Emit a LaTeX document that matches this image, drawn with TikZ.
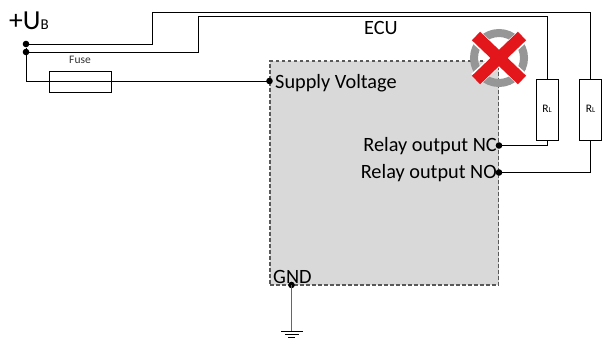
\documentclass[tikz,border=0pt]{standalone}
\usepackage{fontspec}
\setmainfont{Carlito}
\definecolor{ecufill}{HTML}{D9D9D9}
\definecolor{ringgray}{HTML}{969696}
\definecolor{crossred}{HTML}{E3161B}
\tikzset{
  x=1pt,y=-1pt,
  wire/.style={draw=black,line width=1pt},
  boxed/.style={draw=black,line width=1pt,fill=white,minimum width=22pt,minimum height=61pt,inner sep=0pt},
  dot/.style={circle,fill=black,minimum size=6.6pt,inner sep=0pt},
  lab/.style={font=\fontsize{20.3pt}{22pt}\selectfont,inner sep=0pt,text=black},
  small/.style={font=\fontsize{11.5pt}{13pt}\selectfont,inner sep=0pt},
}
\begin{document}
\begin{tikzpicture}
\useasboundingbox (0,0) rectangle (604,338);
\node[draw=black!65,dash pattern=on 3.5pt off 2.5pt,line width=1.3pt,fill=ecufill,minimum width=228.5pt,minimum height=224pt,inner sep=0pt] (ecu) at (384.25,173) {};
\node[boxed,minimum width=62pt,minimum height=21pt,fill=none] (fuse) at (80,81.5) {};
\node[boxed] (r1) at (547,109.5) {};
\node[boxed] (r2) at (590.5,109.5) {};
\node[dot] (u1) at (26,44) {};
\node[dot] (u2) at (26,52) {};
\node[dot] (sv) at (269.5,81) {};
\node[dot] (nc) at (499,145.5) {};
\node[dot] (no) at (499,172.5) {};
\node[dot] (gnd) at (291.5,285) {};
\coordinate (g0) at (291.5,331);
\draw[wire] (u1) -- (u2);
\draw[wire] (u1.center) -- (152,44) -- (152,12) -- (590.5,12) -- (r2.north);
\draw[wire] (u2.center) -- (198,52) -- (198,16) -- (547.5,16) -- (547.5,79);
\draw[wire] (u2.center) |- (sv.center);
\draw[wire] (547.5,140) -- (547.5,145.5) -- (nc.center);
\draw[wire] (r2.south) |- (no.center);
\draw[draw=black!60,line width=1.2pt] (gnd.center) -- (g0);
\draw[line width=1pt] (281,331) -- (303,331);
\draw[line width=1pt] (285,334) -- (299,334);
\draw[line width=1pt] (288,337) -- (295,337);
% warning mark
\draw[ringgray,line width=8pt] (499,58) circle (25);
\draw[white,line width=14pt] (476,37) -- (522,79) (522,37) -- (476,79);
\draw[crossred,line width=11.8pt] (476,36) -- (522,80) (522,36) -- (476,80);
\node[anchor=base west,inner sep=0pt] (ub) at (9,29.5) {\fontsize{27.5pt}{29pt}\selectfont +U\fontsize{15pt}{17pt}\selectfont B};
\node[small,text=black!80] (fl) at (80,59.5) {Fuse};
\node[lab,anchor=base] (ecut) at (381,34) {ECU};
\node[lab,anchor=base west] (svt) at (275,88.5) {Supply Voltage};
\node[lab,anchor=base east] (nct) at (497,151.5) {Relay output NC};
\node[lab,anchor=base east] (not) at (497,178.5) {Relay output NO};
\node[lab,anchor=base west] (gt) at (273,283) {GND};
\node[small] (rl1) at (547,109) {R\fontsize{7.5pt}{8pt}\selectfont L};
\node[small] (rl2) at (590.5,109) {R\fontsize{7.5pt}{8pt}\selectfont L};
\end{tikzpicture}
\end{document}
